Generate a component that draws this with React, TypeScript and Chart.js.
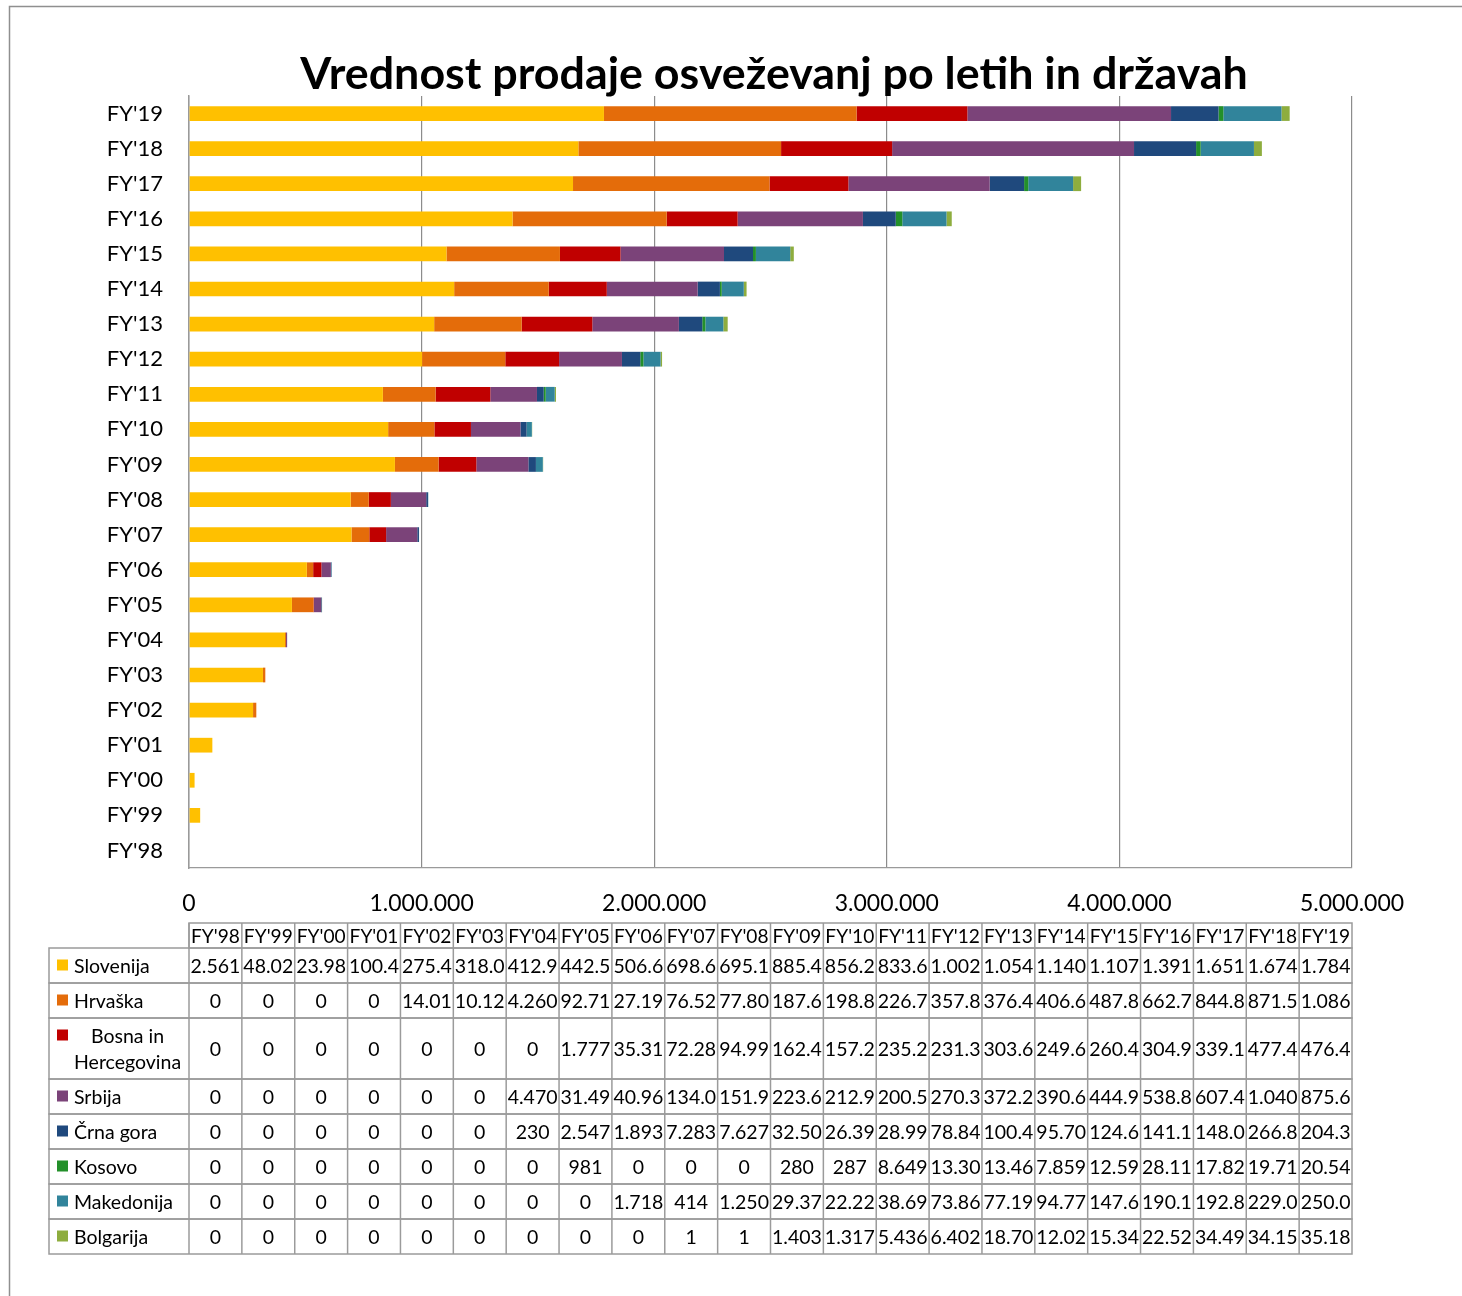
import React, { useEffect, useRef } from 'react';
import { Chart, registerables } from 'chart.js';

Chart.register(...registerables);

const chartTitle = 'Vrednost prodaje osveževanj po letih in državah';

const years = ["FY'98", "FY'99", "FY'00", "FY'01", "FY'02", "FY'03", "FY'04", "FY'05", "FY'06", "FY'07", "FY'08", "FY'09", "FY'10", "FY'11", "FY'12", "FY'13", "FY'14", "FY'15", "FY'16", "FY'17", "FY'18", "FY'19"];

const slovenija = [2561, 48020, 23980, 100400, 275400, 318000, 412900, 442500, 506600, 698600, 695100, 885400, 856200, 833600, 1002000, 1054000, 1140000, 1107000, 1391000, 1651000, 1674000, 1784000];
const hrvaska = [0, 0, 0, 0, 14010, 10120, 4260, 92710, 27190, 76520, 77800, 187600, 198800, 226700, 357800, 376400, 406600, 487800, 662700, 844800, 871500, 1086000];
const bosna = [0, 0, 0, 0, 0, 0, 0, 1777, 35310, 72280, 94990, 162400, 157200, 235200, 231300, 303600, 249600, 260400, 304900, 339100, 477400, 476400];
const srbija = [0, 0, 0, 0, 0, 0, 4470, 31490, 40960, 134000, 151900, 223600, 212900, 200500, 270300, 372200, 390600, 444900, 538800, 607400, 1040000, 875600];
const crnaGora = [0, 0, 0, 0, 0, 0, 230, 2547, 1893, 7283, 7627, 32500, 26390, 28990, 78840, 100400, 95700, 124600, 141100, 148000, 266800, 204300];
const kosovo = [0, 0, 0, 0, 0, 0, 0, 981, 0, 0, 0, 280, 287, 8649, 13300, 13460, 7859, 12590, 28110, 17820, 19710, 20540];
const makedonija = [0, 0, 0, 0, 0, 0, 0, 0, 1718, 414, 1250, 29370, 22220, 38690, 73860, 77190, 94770, 147600, 190100, 192800, 229000, 250000];
const bolgarija = [0, 0, 0, 0, 0, 0, 0, 0, 0, 1, 1, 1403, 1317, 5436, 6402, 18700, 12020, 15340, 22520, 34490, 34150, 35180];

const seriesNames = ['Slovenija', 'Hrvaška', 'Bosna in Hercegovina', 'Srbija', 'Črna gora', 'Kosovo', 'Makedonija', 'Bolgarija'];
const seriesTableLabels = [['Slovenija'], ['Hrvaška'], ['Bosna in', 'Hercegovina'], ['Srbija'], ['Črna gora'], ['Kosovo'], ['Makedonija'], ['Bolgarija']];
const seriesValues = [slovenija, hrvaska, bosna, srbija, crnaGora, kosovo, makedonija, bolgarija];
const seriesColors = ['#FFC000', '#E46C0A', '#C00000', '#7B4379', '#1F497D', '#23902A', '#31849B', '#8EAD3E'];

const xMin = 0;
const xMax = 5000000;
const xStep = 1000000;

const FONT = 'Lato, "Open Sans", sans-serif';

const fmtThousands = (n: number) => String(Math.round(n)).replace(/\B(?=(\d{3})+(?!\d))/g, '.');
const fmtCell = (n: number) => fmtThousands(n).slice(0, 5);

const framePlugin = {
  id: 'frame',
  beforeDraw(chart: any) {
    const ctx = chart.ctx;
    ctx.save();
    ctx.fillStyle = '#ffffff';
    ctx.fillRect(0, 0, chart.width, chart.height);
    ctx.strokeStyle = '#8f8f8f';
    ctx.lineWidth = 1.5;
    ctx.beginPath();
    ctx.moveTo(9.5, chart.height);
    ctx.lineTo(9.5, 6.5);
    ctx.lineTo(chart.width, 6.5);
    ctx.stroke();
    ctx.restore();
  },
};

const titlePlugin = {
  id: 'customTitle',
  afterDraw(chart: any) {
    const ctx = chart.ctx;
    ctx.save();
    ctx.font = `bold 40px ${FONT}`;
    const w = ctx.measureText(chartTitle).width;
    const size = Math.min(46, 40 * 948 / w);
    ctx.font = `bold ${size}px ${FONT}`;
    ctx.fillStyle = '#000';
    ctx.textAlign = 'center';
    ctx.textBaseline = 'alphabetic';
    ctx.fillText(chartTitle, 774, 89);
    ctx.restore();
  },
};

const tablePlugin = {
  id: 'dataTable',
  afterDraw(chart: any) {
    const ctx = chart.ctx;
    const { left, right } = chart.chartArea;
    const n = years.length;
    const cw = (right - left) / n;
    const tableTop = 923;
    const headerH = 25;
    const baseRowH = 35;
    const extraLineH = 26;
    const labelLeft = 49;
    ctx.save();
    ctx.strokeStyle = '#9b9b9b';
    ctx.lineWidth = 1.5;
    ctx.fillStyle = '#000';
    ctx.font = `19.5px ${FONT}`;
    ctx.textBaseline = 'middle';

    ctx.strokeRect(left, tableTop, right - left, headerH);
    for (let i = 0; i < n; i++) {
      const x = left + i * cw;
      ctx.beginPath();
      ctx.moveTo(x, tableTop);
      ctx.lineTo(x, tableTop + headerH);
      ctx.stroke();
      ctx.textAlign = 'center';
      ctx.fillText(years[i], x + cw / 2, tableTop + headerH / 2 + 1, cw - 4);
    }

    let y = tableTop + headerH;
    seriesNames.forEach((name, si) => {
      const lines = seriesTableLabels[si];
      const h = baseRowH + (lines.length - 1) * extraLineH;
      ctx.strokeRect(labelLeft, y, right - labelLeft, h);
      ctx.beginPath();
      ctx.moveTo(left, y);
      ctx.lineTo(left, y + h);
      ctx.stroke();
      for (let i = 0; i < n; i++) {
        const x = left + i * cw;
        if (i > 0) {
          ctx.beginPath();
          ctx.moveTo(x, y);
          ctx.lineTo(x, y + h);
          ctx.stroke();
        }
        ctx.textAlign = 'center';
        ctx.fillText(fmtCell(seriesValues[si][i]), x + cw / 2, y + h / 2 + 1, cw - 3);
      }
      const firstLineY = lines.length > 1 ? y + h / 2 - extraLineH / 2 : y + h / 2;
      ctx.fillStyle = seriesColors[si];
      ctx.fillRect(57, firstLineY - 6, 11, 11);
      ctx.fillStyle = '#000';
      if (lines.length > 1) {
        const maxW = Math.max(...lines.map((l) => ctx.measureText(l).width));
        ctx.textAlign = 'center';
        lines.forEach((l, li) => ctx.fillText(l, 74 + maxW / 2, firstLineY + li * extraLineH + 1));
      } else {
        ctx.textAlign = 'left';
        ctx.fillText(lines[0], 74, firstLineY + 1);
      }
      y += h;
    });
    ctx.restore();
  },
};

export default function App() {
  const ref = useRef<HTMLCanvasElement>(null);
  useEffect(() => {
    if (!ref.current) return;
    const chart = new Chart(ref.current, {
      type: 'bar',
      data: {
        labels: years,
        datasets: seriesNames.map((name, i) => ({
          label: name,
          data: seriesValues[i],
          backgroundColor: seriesColors[i],
          borderWidth: 0,
          barPercentage: 0.42,
          categoryPercentage: 1,
        })),
      },
      options: {
        indexAxis: 'y',
        animation: false,
        responsive: false,
        devicePixelRatio: 1,
        layout: { padding: { left: 0, right: 110, top: 96, bottom: 368 } },
        plugins: {
          legend: { display: false },
          tooltip: { enabled: false },
          title: { display: false },
        },
        scales: {
          x: {
            stacked: true,
            min: xMin,
            max: xMax,
            ticks: {
              stepSize: xStep,
              callback: (v: any) => fmtThousands(Number(v)),
              font: { family: FONT, size: 23 },
              color: '#000',
              padding: 22,
              maxRotation: 0,
            },
            grid: { color: '#8c8c8c', lineWidth: 1.2, drawTicks: false },
            border: { display: true, color: '#9a9a9a', width: 1.2 },
            afterFit: (s: any) => { s.height = 60; },
          },
          y: {
            stacked: true,
            reverse: true,
            ticks: { font: { family: FONT, size: 22 }, color: '#000', padding: 26, autoSkip: false },
            grid: { display: false, drawTicks: false },
            border: { display: true, color: '#9a9a9a', width: 1.5 },
            afterFit: (s: any) => { s.width = 189; },
          },
        },
      },
      plugins: [framePlugin, titlePlugin, tablePlugin],
    } as any);
    return () => chart.destroy();
  }, []);
  return (
    <div style={{ position: 'absolute', left: 0, top: 0, width: 1462, height: 1296 }}>
      <canvas ref={ref} width={1462} height={1296} style={{ width: 1462, height: 1296 }} />
    </div>
  );
}
